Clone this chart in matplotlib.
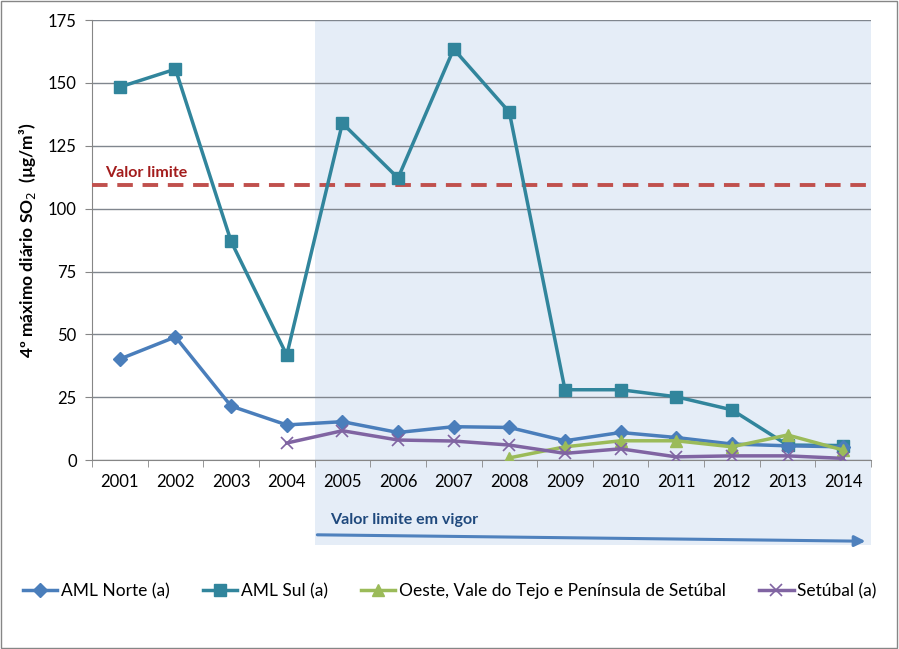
import numpy as np
import matplotlib.pyplot as plt
import matplotlib.transforms as mtransforms
from matplotlib.patches import Rectangle

plt.rcParams['font.family'] = ['Lato', 'DejaVu Sans']

anos = ['2001', '2002', '2003', '2004', '2005', '2006', '2007',
        '2008', '2009', '2010', '2011', '2012', '2013', '2014']

# series (NaN = sem dados)
aml_norte = [40.2, 49.0, 21.5, 14.0, 15.3, 11.0, 13.3, 13.0, 7.7, 11.0, 9.0, 6.4, 5.7, 5.3]
aml_sul = [148.4, 155.5, 87.0, 41.8, 134.0, 112.2, 163.5, 138.4, 28.0, 28.0, 25.2, 20.0, 6.0, 5.8]
oeste = [np.nan] * 7 + [0.9, 5.3, 7.7, 7.7, 5.3, 10.0, 4.0]
setubal = [np.nan] * 3 + [6.8, 11.7, 8.0, 7.6, 6.0, 2.7, 4.5, 1.3, 1.7, 1.7, 0.7]

valor_limite = 109.5

fig = plt.figure(figsize=(8.99, 6.49), dpi=100)
ax = fig.add_axes([0.1023, 0.291, 0.8666, 0.678])

x = np.arange(len(anos))

# zona "valor limite em vigor"
trans = mtransforms.blended_transform_factory(ax.transData, fig.transFigure)
ax.add_patch(Rectangle((3.5, 0.160), 10.0, 0.809, transform=trans,
                       facecolor='#e5edf7', edgecolor='none', zorder=0, clip_on=False))

ax.plot(x, aml_sul, '-s', color='#31859c', lw=2.5, ms=8.5, label='AML Sul (a)', zorder=4)
ax.plot(x, aml_norte, '-D', color='#4a7ebb', lw=2.5, ms=7, label='AML Norte (a)', zorder=5)
ax.plot(x, oeste, '-^', color='#9bbb59', lw=2.5, ms=8,
        label='Oeste, Vale do Tejo e Península de Setúbal', zorder=5)
ax.plot(x, setubal, '-x', color='#8064a2', lw=2.5, ms=8.5, mew=1.2, label='Setúbal (a)', zorder=5)

ax.axhline(valor_limite, color='#c0504d', lw=2.8, ls=(0, (4, 2.5)), zorder=3)
ax.text(-0.27, 112.8, 'Valor limite', color='#a31c1c', fontsize=11.5, fontweight='bold')

ax.set_xlim(-0.5, 13.5)
ax.set_ylim(0, 175)
ax.set_yticks(np.arange(0, 176, 25))
ax.set_xticks(x)
ax.set_xticklabels(anos)
ax.set_xticks(np.arange(-0.5, 13.6, 1), minor=True)
ax.tick_params(axis='x', which='major', length=0, pad=10, labelsize=12)
ax.tick_params(axis='x', which='minor', length=5, color='#868686')
ax.tick_params(axis='y', length=5, color='#868686', labelsize=12, pad=6)
ax.grid(axis='y', color='#80868e', lw=1.0)
ax.set_axisbelow(True)
ax.patch.set_alpha(0)
for s in ['top', 'right']:
    ax.spines[s].set_visible(False)
for s in ['left', 'bottom']:
    ax.spines[s].set_color('#868686')

ax.set_ylabel('4º máximo diário SO$_2$  (µg/m³)', fontsize=12.5, fontweight='bold', labelpad=7)

# seta e texto
ax.text(3.78, 0.198, 'Valor limite em vigor', transform=trans, color='#1f497d',
        fontsize=11.5, fontweight='bold', va='center')
ax.annotate('', xy=(13.45, 0.166), xycoords=trans, xytext=(3.5, 0.176), textcoords=trans,
            arrowprops=dict(arrowstyle='-|>', color='#4f81bd', lw=2.2, mutation_scale=16),
            annotation_clip=False)

handles, labels = ax.get_legend_handles_labels()
order = [1, 0, 2, 3]
fig.legend([handles[i] for i in order], [labels[i] for i in order], loc='center',
           bbox_to_anchor=(0.5, 0.089), ncol=4, frameon=False, fontsize=12.5,
           handlelength=2.0, handletextpad=0.2, columnspacing=1.9)

fig.patches.append(Rectangle((0.001, 0.002), 0.997, 0.996, transform=fig.transFigure,
                             facecolor='none', edgecolor='#868686', lw=1))

fig.savefig('out.png', dpi=100)
